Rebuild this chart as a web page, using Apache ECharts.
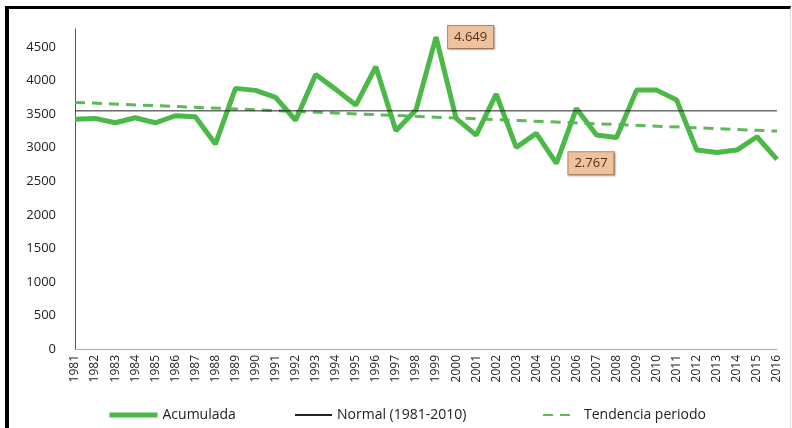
<!DOCTYPE html>
<html>

<head>
  <meta charset="utf-8" />
  <title>Acumulada</title>
  <style>
    html, body {
      margin: 0;
      padding: 0;
      background: #fff;
    }

    .frame {
      position: absolute;
      left: 5px;
      top: 6px;
      width: 781px;
      height: 430px;
      border-left: 4px solid #000;
      border-top: 3px solid #000;
      border-right: 1px solid #ddd;
    }

    #chart {
      position: absolute;
      left: 0;
      top: 0;
      width: 792px;
      height: 428px;
    }
  </style>
</head>

<body>
  <div class="frame"></div>
  <div id="chart"></div>
</body>
<script src="https://cdn.jsdelivr.net/npm/echarts@6/dist/echarts.min.js"></script>
<script>
  // años
  const years = []
  for (let y = 1981; y <= 2016; y++) years.push(String(y))

  // precipitacion acumulada (mm)
  const acumulada = [
    3423, 3437, 3372, 3447, 3372, 3477, 3462, 3055, 3885, 3855,
    3750, 3410, 4093, 3870, 3636, 4207, 3253, 3561, 4649, 3437,
    3189, 3800, 3005, 3214, 2767, 3586, 3189, 3154, 3859, 3859,
    3710, 2965, 2930, 2965, 3164, 2826
  ]

  // normal 1981-2010
  const normal = [['1981', 3550], ['2016', 3550]]

  // tendencia del periodo (extremos)
  const tendencia = [['1981', 3676], ['2016', 3248]]

  // valores anotados
  const labeled = ['1999', '2005']

  const green = '#4cb848'
  const font = 'Open Sans'

  let chart = echarts.init(document.getElementById('chart'))

  let acumData = acumulada.map((v, i) => {
    if (labeled.indexOf(years[i]) < 0) return v
    return {
      value: v,
      label: {
        show: true,
        position: 'right',
        distance: 12,
        formatter: (p) => (p.value / 1000).toFixed(3),
        fontFamily: font,
        fontSize: 13,
        color: '#4a3020',
        backgroundColor: '#efc29e',
        borderColor: '#b98862',
        borderWidth: 1,
        padding: [5, 6, 4, 6],
        shadowColor: 'rgba(0,0,0,0.25)',
        shadowBlur: 2,
        shadowOffsetX: 1,
        shadowOffsetY: 1,
      },
    }
  })

  let legendText = { fontFamily: font, fontSize: 14, color: '#222' }

  let legendBase = {
    top: 403,
    itemHeight: 14,
    itemStyle: { opacity: 0 },
    textStyle: legendText,
  }

  let option = {
    animation: false,
    textStyle: { fontFamily: font },
    grid: {
      left: 75,
      right: 15,
      top: 29,
      bottom: 79,
    },
    legend: [
      Object.assign({}, legendBase, {
        left: 102, itemWidth: 48, data: ['Acumulada'],
        lineStyle: { width: 5 },
      }),
      Object.assign({}, legendBase, {
        left: 289, itemWidth: 37, data: ['Normal (1981-2010)'],
      }),
      Object.assign({}, legendBase, {
        left: 537, itemWidth: 28, data: ['Tendencia periodo'],
        textStyle: Object.assign({}, legendText, { padding: [0, 0, 0, 8] }),
      }),
    ],
    xAxis: {
      type: 'category',
      data: years,
      boundaryGap: false,
      axisLine: { lineStyle: { color: '#aaa', width: 1 } },
      axisTick: { show: false },
      axisLabel: {
        rotate: 90,
        interval: 0,
        margin: 6,
        fontFamily: font,
        fontSize: 12,
        color: '#222',
      },
    },
    yAxis: {
      type: 'value',
      min: 0,
      max: 4770,
      interval: 500,
      axisLine: { show: true, lineStyle: { color: '#555', width: 1 } },
      axisTick: { show: false },
      splitLine: { show: false },
      axisLabel: {
        margin: 19,
        fontFamily: font,
        fontSize: 13,
        color: '#222',
        formatter: (v) => (v % 500 === 0 ? v : ''),
      },
    },
    series: [
      {
        name: 'Acumulada',
        type: 'line',
        data: acumData,
        symbol: 'circle',
        symbolSize: 0.1,
        showSymbol: true,
        z: 3,
        lineStyle: { color: green, width: 5 },
        itemStyle: { color: green },
      },
      {
        name: 'Normal (1981-2010)',
        type: 'line',
        data: normal,
        symbol: 'none',
        z: 4,
        lineStyle: { color: '#222', width: 1 },
        itemStyle: { color: '#222' },
      },
      {
        name: 'Tendencia periodo',
        type: 'line',
        data: tendencia,
        symbol: 'none',
        z: 2,
        lineStyle: { color: '#5fb85a', width: 3, type: [10, 7] },
        itemStyle: { color: '#5fb85a' },
      },
    ],
  }

  chart.setOption(option)
</script>

</html>
